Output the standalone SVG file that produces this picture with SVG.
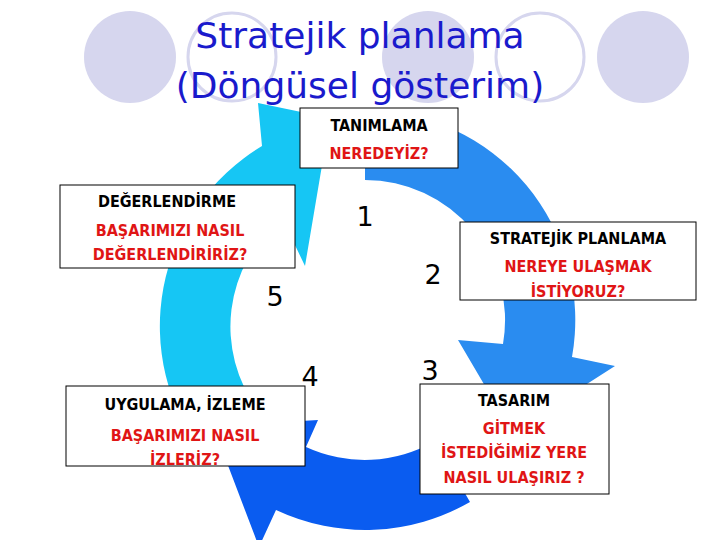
<svg xmlns="http://www.w3.org/2000/svg" width="720" height="540" viewBox="0 0 720 540">
<style>
.bg{fill:#d6d6ee}.ring{fill:#fff;stroke:#d6d6ee;stroke-width:3}
.box{fill:#fff;stroke:#000;stroke-width:1}
.t{font-family:"DejaVu Sans Condensed","DejaVu Sans",sans-serif;font-weight:bold;font-size:16px;text-anchor:middle;fill:#000}
.r{fill:#e01515}
.n{font-family:"DejaVu Sans",sans-serif;font-size:27px;text-anchor:middle;fill:#000}
.title{font-family:"DejaVu Sans",sans-serif;font-size:36px;text-anchor:middle;fill:#1a1acc}
</style>
<rect width="720" height="540" fill="#fff"/>
<circle class="bg" cx="130" cy="57" r="46"/>
<circle class="ring" cx="232" cy="57" r="44"/>
<circle class="bg" cx="428" cy="57" r="46"/>
<circle class="ring" cx="540" cy="57" r="44"/>
<circle class="bg" cx="643" cy="57" r="46"/>
<text class="title" x="360" y="48">Stratejik planlama</text>
<text class="title" x="360" y="98">(Döngüsel gösterim)</text>
<g id="connectors">
<path d="M204,455 A210,210 0 0 1 262,146 L258,103 L330,118 L305,266 L282,218 A140,140 0 0 0 258,410 Z" fill="#16c6f4"/>
<path d="M470,502 A210,210 0 0 1 276,510 L259,547 L213,426 L318,420 L306,447 A140,140 0 0 0 435,441 Z" fill="#0a5cf0"/>
<path d="M365,110 A210,210 0 0 1 572,357 L615,366 L512,432 L458,340 L503,344 A140,140 0 0 0 365,180 Z" fill="#2a8cf0"/>
</g>
<g id="n1"><rect class="box" x="300" y="108" width="158" height="60"/>
<text class="t" x="379" y="131">TANIMLAMA</text><text class="t r" x="379" y="159">NEREDEYİZ?</text></g>
<g id="n2"><rect class="box" x="460" y="222" width="236" height="78"/>
<text class="t" x="578" y="244">STRATEJİK PLANLAMA</text><text class="t r" x="578" y="272">NEREYE ULAŞMAK</text><text class="t r" x="578" y="297">İSTİYORUZ?</text></g>
<g id="n3"><rect class="box" x="420" y="384" width="189" height="110"/>
<text class="t" x="514" y="406">TASARIM</text><text class="t r" x="514" y="434">GİTMEK</text><text class="t r" x="514" y="458">İSTEDİĞİMİZ YERE</text><text class="t r" x="514" y="483">NASIL ULAŞIRIZ ?</text></g>
<g id="n4"><rect class="box" x="66" y="386" width="239" height="80"/>
<text class="t" x="185" y="410">UYGULAMA, İZLEME</text><text class="t r" x="185" y="441">BAŞARIMIZI NASIL</text><text class="t r" x="185" y="465">İZLERİZ?</text></g>
<g id="n5"><rect class="box" x="60" y="185" width="235" height="83"/>
<text class="t" x="167" y="207">DEĞERLENDİRME</text><text class="t r" x="170" y="236">BAŞARIMIZI NASIL</text><text class="t r" x="170" y="260">DEĞERLENDİRİRİZ?</text></g>
<g id="nums">
<text class="n" x="365" y="226">1</text><text class="n" x="433" y="284">2</text><text class="n" x="430" y="380">3</text><text class="n" x="310" y="386">4</text><text class="n" x="275" y="306">5</text>
</g>
</svg>
